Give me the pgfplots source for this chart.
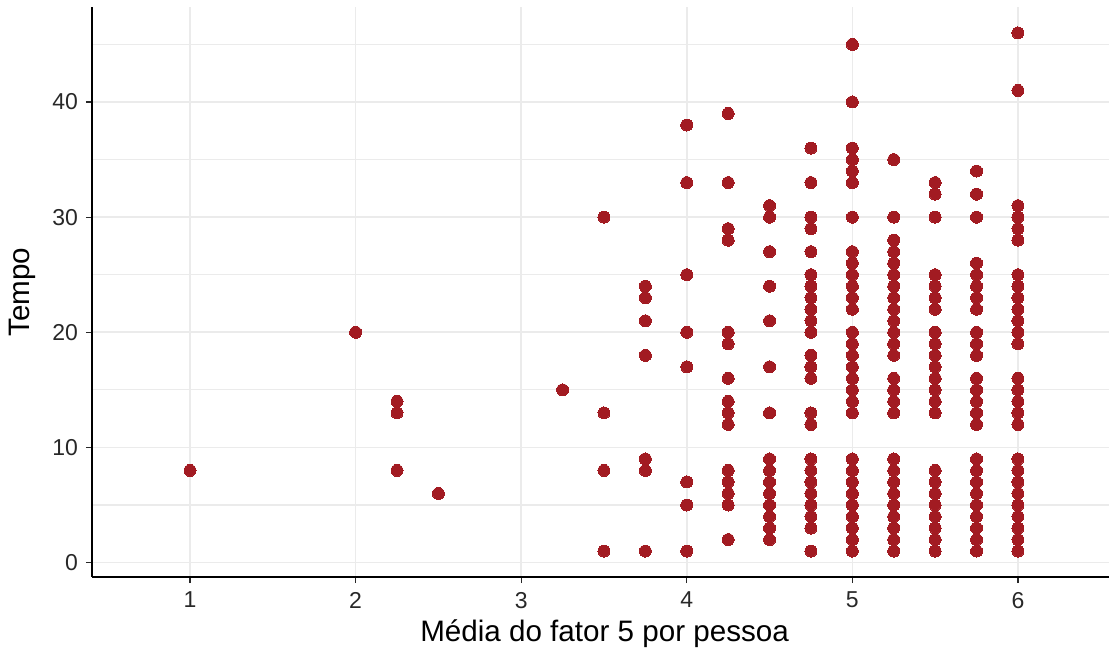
\documentclass[border=0pt]{standalone}
\usepackage{fontspec}
\setmainfont{Liberation Sans}
\usepackage{pgfplots}
\pgfplotsset{compat=1.18}
\definecolor{pt}{RGB}{162,27,34}
\definecolor{gridc}{RGB}{235,235,235}
\definecolor{tickc}{RGB}{40,40,40}
\begin{document}
\begin{tikzpicture}
\useasboundingbox (0,0) rectangle (554.5pt,324pt);
\begin{axis}[
  at={(46pt,35.5pt)}, anchor=south west,
  scale only axis, width=508.5pt, height=285pt,
  xmin=0.408, xmax=6.55, ymin=-1.25, ymax=48.25,
  axis lines*=left,
  axis line style={line width=1pt, black},
  xtick={1,2,3,4,5,6}, ytick={0,10,20,30,40},
  minor ytick={5,15,25,35,45},
  grid=both,
  major grid style={gridc, line width=0.8pt},
  minor grid style={gridc, line width=0.6pt},
  tick align=outside, major tick length=3pt, minor tick length=0pt,
  major tick style={tickc, line width=0.6pt},
  tick label style={font=\fontsize{11.5}{13}\selectfont, text=tickc},
  /pgf/number format/assume math mode=true,
  xticklabel style={yshift=-1pt},
  yticklabel style={xshift=-0.5pt},
  clip=false,
  xlabel={}, ylabel={},
]
\addplot[only marks, mark=*, mark size=3pt, mark options={fill=pt, draw=pt, line width=0pt}] coordinates {
(1,8)
(2,20)
(2.25,14) (2.25,13) (2.25,8)
(2.5,6)
(3.25,15)
(3.5,30) (3.5,13) (3.5,8) (3.5,1)
(3.75,24) (3.75,23) (3.75,21) (3.75,18) (3.75,9) (3.75,8) (3.75,1)
(4,38) (4,33) (4,25) (4,20) (4,17) (4,7) (4,5) (4,1)
(4.25,39) (4.25,33) (4.25,29) (4.25,28) (4.25,20) (4.25,19) (4.25,16) (4.25,14) (4.25,13) (4.25,12) (4.25,8) (4.25,7) (4.25,6) (4.25,5) (4.25,2)
(4.5,31) (4.5,30) (4.5,27) (4.5,24) (4.5,21) (4.5,17) (4.5,13) (4.5,9) (4.5,8) (4.5,7) (4.5,6) (4.5,5) (4.5,4) (4.5,3) (4.5,2)
(4.75,36) (4.75,33) (4.75,30) (4.75,29) (4.75,27) (4.75,25) (4.75,24) (4.75,23) (4.75,22) (4.75,21) (4.75,20) (4.75,18) (4.75,17) (4.75,16) (4.75,13) (4.75,12) (4.75,9) (4.75,8) (4.75,7) (4.75,6) (4.75,5) (4.75,4) (4.75,3) (4.75,1)
(5,45) (5,40) (5,36) (5,35) (5,34) (5,33) (5,30) (5,27) (5,26) (5,25) (5,24) (5,23) (5,22) (5,20) (5,19) (5,18) (5,17) (5,16) (5,15) (5,14) (5,13) (5,9) (5,8) (5,7) (5,6) (5,5) (5,4) (5,3) (5,2) (5,1)
(5.25,35) (5.25,30) (5.25,28) (5.25,27) (5.25,26) (5.25,25) (5.25,24) (5.25,23) (5.25,22) (5.25,21) (5.25,20) (5.25,19) (5.25,18) (5.25,16) (5.25,15) (5.25,14) (5.25,13) (5.25,9) (5.25,8) (5.25,7) (5.25,6) (5.25,5) (5.25,4) (5.25,3) (5.25,2) (5.25,1)
(5.5,33) (5.5,32) (5.5,30) (5.5,25) (5.5,24) (5.5,23) (5.5,22) (5.5,20) (5.5,19) (5.5,18) (5.5,17) (5.5,16) (5.5,15) (5.5,14) (5.5,13) (5.5,8) (5.5,7) (5.5,6) (5.5,5) (5.5,4) (5.5,3) (5.5,2) (5.5,1)
(5.75,34) (5.75,32) (5.75,30) (5.75,26) (5.75,25) (5.75,24) (5.75,23) (5.75,22) (5.75,20) (5.75,19) (5.75,18) (5.75,16) (5.75,15) (5.75,14) (5.75,13) (5.75,12) (5.75,9) (5.75,8) (5.75,7) (5.75,6) (5.75,5) (5.75,4) (5.75,3) (5.75,2) (5.75,1)
(6,46) (6,41) (6,31) (6,30) (6,29) (6,28) (6,25) (6,24) (6,23) (6,22) (6,21) (6,20) (6,19) (6,16) (6,15) (6,14) (6,13) (6,12) (6,9) (6,8) (6,7) (6,6) (6,5) (6,4) (6,3) (6,2) (6,1)
};
\node[anchor=base, font=\fontsize{14.8}{17}\selectfont] at (axis description cs:0.504,-0.1125) {Média do fator 5 por pessoa};
\node[anchor=center, rotate=90, font=\fontsize{14.8}{17}\selectfont] at (axis description cs:-0.0688,0.5) {Tempo};
\end{axis}
\end{tikzpicture}
\end{document}
